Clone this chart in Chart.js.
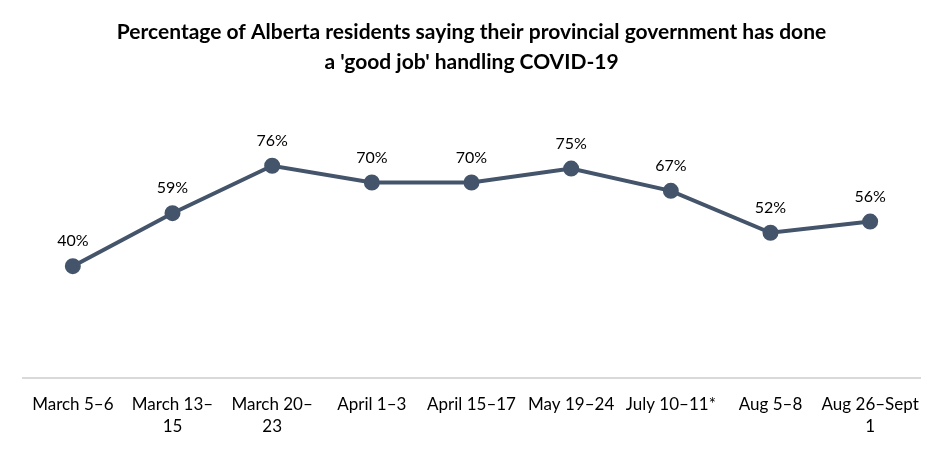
<!DOCTYPE html>
<html>
<head>
<meta charset="utf-8">
<script src="https://cdn.jsdelivr.net/npm/chart.js@4/dist/chart.umd.min.js"></script>
<style>
  body { margin: 0; background: #fff; }
  #wrap { width: 944px; height: 450px; }
</style>
</head>
<body>
<div id="wrap"><canvas id="myChart"></canvas></div>
<script>
// survey periods (wrapped like the original axis)
const periods = [
  'March 5–6', ['March 13–', '15'], ['March 20–', '23'], 'April 1–3',
  'April 15–17', 'May 19–24', 'July 10–11*', 'Aug 5–8', ['Aug 26–Sept', '1']
];
// share saying "good job", in %
const goodJob = [40, 59, 76, 70, 70, 75, 67, 52, 56];

const titleLines = [
  "Percentage of Alberta residents saying their provincial government has done",
  "a 'good job' handling COVID-19"
];

const lineColor = '#44546A';
const fontFamily = 'Lato, "Open Sans", sans-serif';

// draws the % values above each point
const valueLabels = {
  id: 'valueLabels',
  afterDatasetsDraw(chart) {
    const ctx = chart.ctx;
    const meta = chart.getDatasetMeta(0);
    ctx.save();
    ctx.font = '16px ' + fontFamily;
    ctx.fillStyle = '#000';
    ctx.textAlign = 'center';
    ctx.textBaseline = 'middle';
    meta.data.forEach((pt, i) => {
      ctx.fillText(goodJob[i] + '%', pt.x, pt.y - 25);
    });
    ctx.restore();
  }
};

const config = {
  type: 'line',
  data: {
    labels: periods,
    datasets: [{
      data: goodJob,
      borderColor: lineColor,
      backgroundColor: lineColor,
      borderWidth: 4,
      pointRadius: 6,
      pointHoverRadius: 6,
      tension: 0
    }]
  },
  plugins: [valueLabels],
  options: {
    responsive: true,
    maintainAspectRatio: false,
    animation: false,
    layout: { padding: { left: 23, right: 24, top: 0, bottom: 4 } },
    plugins: {
      legend: { display: false },
      tooltip: { enabled: false },
      title: {
        display: true,
        text: titleLines,
        color: '#000',
        font: { family: fontFamily, size: 21, weight: 'bold', lineHeight: 1.4 },
        padding: { top: 18, bottom: 22 }
      }
    },
    scales: {
      x: {
        offset: true,
        grid: { display: false },
        border: { display: true, color: '#d9d9d9', width: 2 },
        ticks: {
          color: '#000',
          font: { family: fontFamily, size: 17, lineHeight: 1.3 },
          maxRotation: 0,
          autoSkip: false,
          padding: 8
        }
      },
      y: {
        display: false,
        min: 0,
        max: 100
      }
    }
  }
};

const ctx = document.getElementById('myChart').getContext('2d');
const myChart = new Chart(ctx, config);
</script>
</body>
</html>
